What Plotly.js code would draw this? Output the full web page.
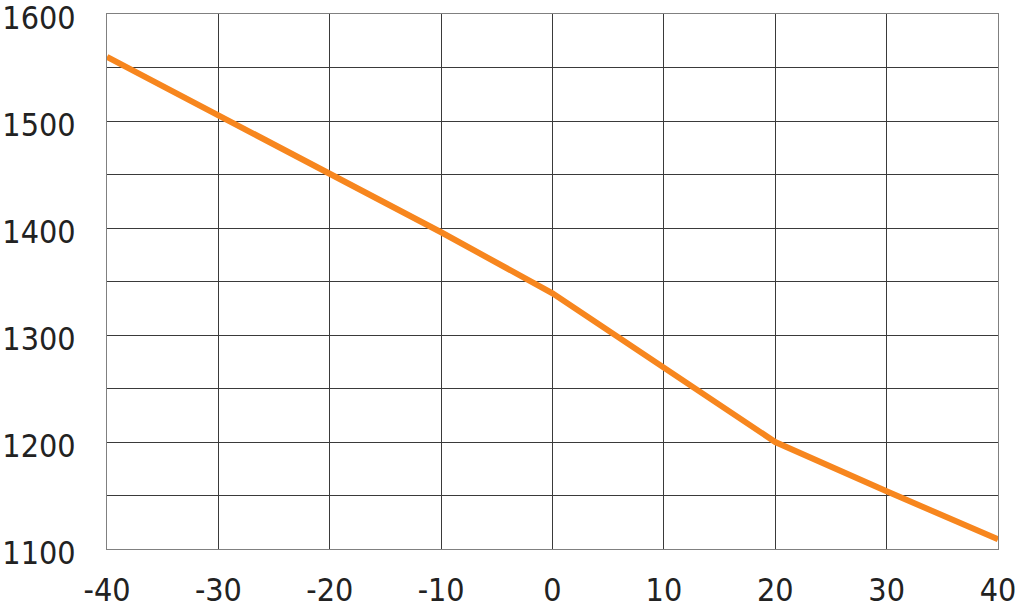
<!DOCTYPE html>
<html>
<head>
<meta charset="utf-8">
<script src="https://cdn.plot.ly/plotly-3.0.1.min.js"></script>
<style>
html,body{margin:0;padding:0;background:#fff}
#chart{width:1015px;height:609px}
#chart text{font-stretch:condensed !important;}
</style>
</head>
<body>
<div id="chart"></div>
<script>
const temperatures = [-40, -30, -20, -10, 0, 10, 20, 30, 40];
const values = [1560, 1505, 1450, 1396, 1339, 1270, 1200, 1154, 1109];
const xTicks = [-40, -30, -20, -10, 0, 10, 20, 30, 40];
const yTicks = [1100, 1200, 1300, 1400, 1500, 1600];

const fontFam = '"DejaVu Sans Condensed", "DejaVu Sans", sans-serif';

Plotly.newPlot('chart', [{
  x: temperatures,
  y: values,
  type: 'scatter',
  mode: 'lines',
  line: {color: '#F7861E', width: 6},
  hoverinfo: 'skip'
}], {
  width: 1015,
  height: 609,
  margin: {l: 107, r: 17, t: 14, b: 60},
  paper_bgcolor: '#fff',
  plot_bgcolor: '#fff',
  showlegend: false,
  font: {family: fontFam, color: '#222', size: 32},
  xaxis: {
    range: [-40, 40],
    tickvals: xTicks,
    ticktext: xTicks.map(String),
    showgrid: true,
    gridcolor: '#3a3a3a',
    gridwidth: 1,
    zeroline: false,
    showline: true,
    mirror: true,
    linecolor: '#808080',
    linewidth: 1,
    ticks: '',
    ticklabelstandoff: 13,
    ticklabeloverflow: 'allow',
    tickfont: {family: fontFam, size: 32, color: '#222', stretch: 'condensed'}
  },
  yaxis: {
    range: [1100, 1600],
    tickvals: yTicks,
    ticktext: yTicks.map(String),
    showgrid: true,
    gridcolor: '#3a3a3a',
    gridwidth: 1,
    minor: {dtick: 50, tick0: 1100, showgrid: true, gridcolor: '#3a3a3a', gridwidth: 1, ticks: ''},
    zeroline: false,
    showline: true,
    mirror: true,
    linecolor: '#808080',
    linewidth: 1,
    ticks: '',
    ticklabelstandoff: 24,
    ticklabelshift: 4,
    ticklabeloverflow: 'allow',
    tickfont: {family: fontFam, size: 32, color: '#222', stretch: 'condensed'}
  }
}, {staticPlot: true});
</script>
</body>
</html>
